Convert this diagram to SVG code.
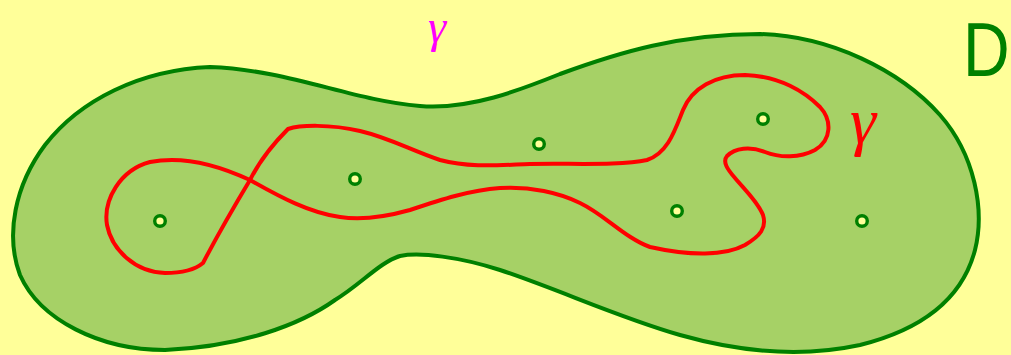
<svg xmlns="http://www.w3.org/2000/svg" width="1011" height="355" viewBox="0 0 1011 355">
<style>
.dot{fill:#ffff99;stroke:#008000;stroke-width:3.4}
.lbl{font-family:"Liberation Serif",serif;font-style:italic}
</style>
<rect x="0" y="0" width="1011" height="355" fill="#ffff99"/>
<g id="domain">
<path d="M 210 67 C 290 70, 350 100, 420 106 C 470 110, 520 90, 560 74 C 620 52, 680 34, 760 34 C 830 36, 900 70, 940 115 C 975 155, 985 210, 975 250 C 962 300, 920 330, 860 345 C 800 358, 740 352, 680 335 C 620 318, 560 290, 500 270 C 460 257, 420 252, 400 256 C 380 262, 360 285, 335 300 C 300 325, 240 347, 165 350 C 100 350, 40 320, 20 275 C 5 235, 15 185, 45 145 C 80 100, 140 70, 210 67 Z" fill="#a6d166" stroke="#008000" stroke-width="4"/>
</g>
<g id="curve">
<path d="M 203 263 C 215 240, 235 205, 250 180 C 260 160, 275 142, 288 129 C 300 125, 330 124, 360 131 C 390 138, 410 150, 440 160 C 470 168, 500 165, 530 164 C 570 163, 620 166, 647 160 C 668 153, 675 130, 683 110 C 692 88, 715 75, 745 75 C 780 76, 805 92, 820 107 C 832 120, 832 140, 815 150 C 800 158, 780 158, 765 152 C 750 146, 735 148, 727 156 C 722 162, 728 170, 735 178 C 745 190, 758 202, 763 215 C 767 228, 760 236, 745 245 C 725 256, 690 256, 650 247 C 625 238, 605 215, 580 203 C 560 193, 530 186, 500 188 C 470 190, 440 200, 410 210 C 385 217, 360 220, 340 217 C 310 213, 280 197, 250 180 C 220 166, 185 155, 150 162 C 120 170, 103 200, 107 225 C 112 250, 135 272, 165 273 C 185 273, 197 268, 203 263 Z" fill="none" stroke="#ff0000" stroke-width="4" stroke-linejoin="round"/>
</g>
<g id="punctures">
<circle class="dot" cx="160" cy="221" r="5.3"/>
<circle class="dot" cx="355" cy="179" r="5.3"/>
<circle class="dot" cx="539" cy="144" r="5.3"/>
<circle class="dot" cx="763" cy="119" r="5.3"/>
<circle class="dot" cx="677" cy="211" r="5.3"/>
<circle class="dot" cx="862" cy="221" r="5.3"/>
</g>
<g id="labels">
<text class="lbl" x="437" y="42" font-size="46" fill="#ff00ff" text-anchor="middle">γ</text>
<text class="lbl" x="863" y="143" font-size="66" fill="#ff0000" text-anchor="middle">γ</text>
<text x="0" y="0" font-size="76" fill="#008000" font-family="Liberation Sans, sans-serif" transform="translate(963 76) scale(0.85 1)">D</text>
</g>
</svg>
